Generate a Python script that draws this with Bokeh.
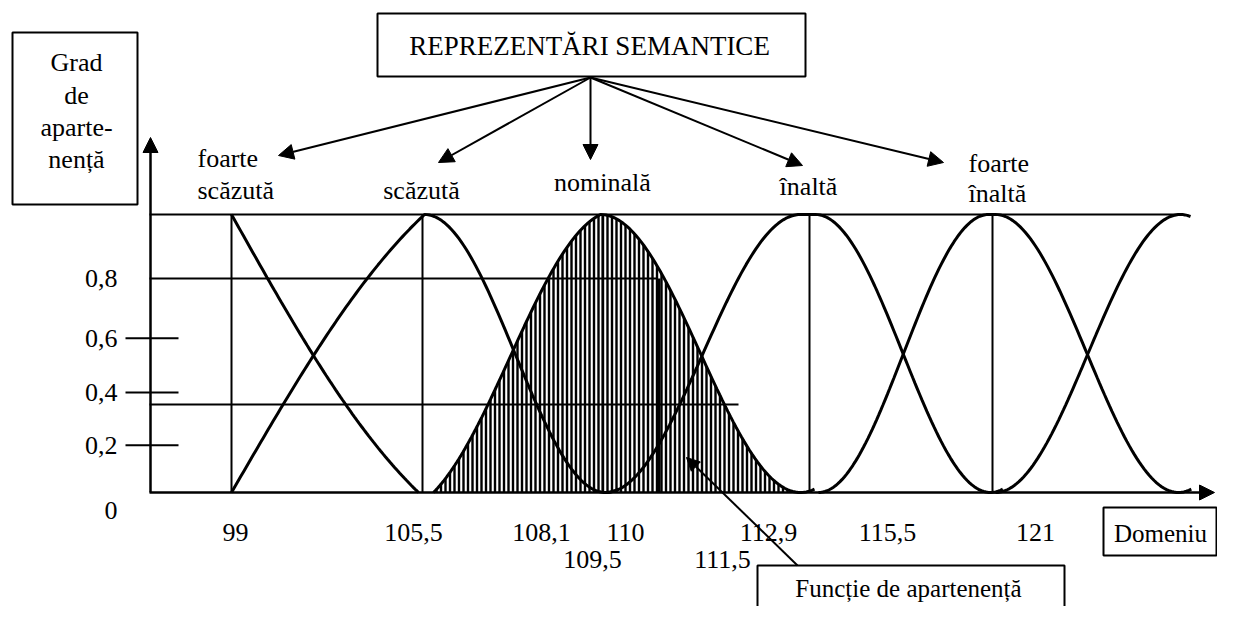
import numpy as np
from bokeh.plotting import figure
from bokeh.models import Range1d, Arrow, NormalHead
from bokeh.core.properties import value
from bokeh.embed import file_html
from bokeh.resources import INLINE

# ---------------- data (diagram units: x = domain position, y = membership degree) -----------
term_names = ["foarte scăzută", "scăzută", "nominală", "înaltă", "foarte înaltă", ""]
# membership function knots: left zero, left top, right top, right zero
mf_left0 = [None, 231, 433, 605, 818, 995]
mf_top_l = [231, 424, 600, 800, 988, 1180]
mf_top_r = [231, 424, 600, 815, 995, 1180]
mf_right0 = [418, 605, 800, 990, 1178, None]

vline_x = [231, 422, 602, 809, 992]
y_tick_labels = ["0,8", "0,6", "0,4", "0,2", "0"]
y_tick_values = [0.77, 0.555, 0.36, 0.17, -0.065]
level_lines = [1.0, 0.77, 0.3165]
level_ends = [1180, 657, 738]
x_tick_labels = ["99", "105,5", "108,1", "110", "112,9", "109,5", "111,5", "115,5", "121"]
x_tick_pos = [235, 413, 541, 625, 768, 592, 722, 887, 1035]
x_tick_row = [0, 0, 0, 0, 0, 1, 1, 0, 0]

FONT = value("Liberation Serif")
FS = "26px"

def m(ypx):
    return (492 - ypx) / 278.0

p = figure(width=1217, height=606, x_range=Range1d(0, 1217), y_range=Range1d(m(606), m(0)),
           output_backend="svg", toolbar_location=None, x_axis_location=None,
           y_axis_location=None, min_border=0, tools="")
p.min_border_left = p.min_border_right = p.min_border_top = p.min_border_bottom = 0
p.outline_line_color = None
p.xgrid.visible = False
p.ygrid.visible = False
p.background_fill_color = "white"

def rising(t, lin):
    # blend of a straight ramp and a quarter sine (steep foot, rounded top)
    return lin * t + (1 - lin) * np.sin(np.pi * t / 2)

def rc_up(t):
    return 0.5 * (1 - np.cos(np.pi * t))

def mf_curve(i):
    xs, ys = [], []
    a, b, c, d = mf_left0[i], mf_top_l[i], mf_top_r[i], mf_right0[i]
    if a is not None:
        x = np.linspace(a, b, 80)
        t = (x - a) / (b - a)
        if i == 1:
            y = rising(t, 0.65)
        elif i == 2:
            y = 0.5 * rising(t, 0.6) + 0.5 * rc_up(t)
        else:
            y = rc_up(t)
        xs += list(x)
        ys += list(y)
    if c > b:
        xs += [c]
        ys += [1.0]
    if d is not None:
        ext = 1.0 if i == 0 else 1.07
        x = np.linspace(c, c + (d - c) * ext, 80)
        t = (x - c) / (d - c)
        if i == 0:
            y = 1 - rising(t, 0.65)
        else:
            y = 0.5 * (1 + np.cos(np.pi * t))
        xs += list(x)
        ys += list(y)
    else:
        x = np.linspace(c, c + 10, 10)
        t = (x - a) / (c - a)
        xs += list(x)
        ys += list(rc_up(t))
    return np.array(xs), np.array(ys)

# hatched area under "nominală"
nx, ny = mf_curve(2)
hx = np.arange(436, 798, 4.5)
hy = np.interp(hx, nx, ny)
p.segment(x0=hx, y0=np.zeros_like(hx), x1=hx, y1=hy, line_color="black", line_width=2.4)

# level lines
for lv, le in zip(level_lines, level_ends):
    p.line([149, le], [lv, lv], line_color="black", line_width=2)
# short ticks
for tv in y_tick_values[1:4]:
    p.line([125, 178], [tv, tv], line_color="black", line_width=2)
# vertical lines
for vx in vline_x:
    p.line([vx, vx], [0, 1], line_color="black", line_width=2)
p.line([658, 658], [0, 0.77], line_color="black", line_width=4)

# membership curves
for i in range(len(mf_top_l)):
    cx, cy = mf_curve(i)
    p.line(cx, cy, line_color="black", line_width=3)

# axes arrows
p.add_layout(Arrow(end=NormalHead(size=15, fill_color="black", line_color="black"),
                   x_start=150, y_start=0, x_end=150, y_end=m(137),
                   line_width=2.5, line_color="black"))
p.add_layout(Arrow(end=NormalHead(size=15, fill_color="black", line_color="black"),
                   x_start=149, y_start=0, x_end=1214, y_end=0,
                   line_width=2.5, line_color="black"))

# boxes
def box(x0, x1, y0, y1):
    p.quad(left=x0, right=x1, top=m(y0), bottom=m(y1), fill_color="white",
           line_color="black", line_width=2)

box(12, 137, 32, 204)
box(377, 805, 13, 76)
box(1103, 1216, 507, 555)
box(757, 1064, 565, 640)

# semantic arrows
targets = [(278, 155), (438, 162), (590, 159), (802, 165), (943, 162)]
for tx, ty in targets:
    p.add_layout(Arrow(end=NormalHead(size=15, fill_color="black", line_color="black"),
                       x_start=590, y_start=m(77), x_end=tx, y_end=m(ty),
                       line_width=2, line_color="black"))
# membership function leader
p.add_layout(Arrow(end=NormalHead(size=13, fill_color="black", line_color="black"),
                   x_start=797, y_start=m(565), x_end=686, y_end=m(457),
                   line_width=2, line_color="black"))

def txt(x, y, s, align="center", size=FS):
    p.text(x=[x], y=[m(y)], text=[s], text_font=FONT, text_font_size=size,
           text_align=align, text_baseline="middle", text_color="black")

# labels
for s, y in zip(["Grad", "de", "aparte-", "nență"], [62, 95, 127, 159]):
    txt(76, y, s)
txt(589, 45, "REPREZENTĂRI SEMANTICE", size="27px")
txt(197, 158, "foarte", "left")
txt(197, 190, term_names[0].split(" ")[1], "left")
txt(421, 190, term_names[1])
txt(602, 182, term_names[2])
txt(808, 186, term_names[3])
txt(968, 163, "foarte", "left")
txt(968, 193, term_names[4].split(" ")[1], "left")

for s, tv in zip(y_tick_labels, y_tick_values):
    p.text(x=[117], y=[tv], text=[s], text_font=FONT, text_font_size=FS,
           text_align="right", text_baseline="middle", text_color="black")

for s, xp, r in zip(x_tick_labels, x_tick_pos, x_tick_row):
    txt(xp, 532 + 27 * r, s)

txt(1160, 533, "Domeniu", size="25px")
txt(908, 588, "Funcție de apartenență", size="25px")

open("out.html", "w").write(file_html(p, INLINE))
